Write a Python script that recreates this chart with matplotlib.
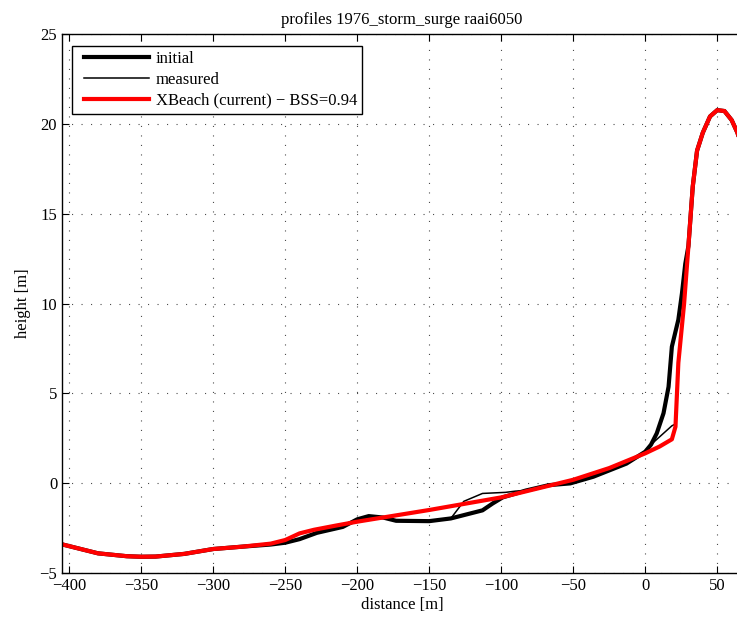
import numpy as np
import matplotlib.pyplot as plt
from matplotlib.legend_handler import HandlerLine2D

plt.rcParams['font.family'] = ['Liberation Serif', 'DejaVu Serif']
plt.rcParams['font.size'] = 12
plt.rcParams['axes.unicode_minus'] = True

# profile data (distance [m], height [m])
x_initial = [-405, -380, -360, -350, -340, -320, -300, -280, -260, -250, -240, -228,
             -210, -200, -192, -182, -173, -150, -135, -113, -106, -99, -83, -67,
             -52, -36, -13, 0, 4, 8, 12.7, 16.2, 18.5, 23, 25.5, 27.8, 30, 33, 36,
             40, 45, 50, 55, 60, 64, 70]
z_initial = [-3.39, -3.89, -4.05, -4.08, -4.07, -3.92, -3.65, -3.52, -3.4, -3.3, -3.1, -2.75,
             -2.42, -2.0, -1.82, -1.9, -2.08, -2.1, -1.95, -1.5, -1.12, -0.78, -0.4, -0.1,
             0.0, 0.37, 1.1, 1.76, 2.15, 2.78, 3.9, 5.37, 7.6, 9.1, 10.56, 12.2, 13.2, 16.5, 18.5,
             19.5, 20.4, 20.75, 20.7, 20.2, 19.5, 18.0]

x_measured = [-405, -380, -360, -350, -340, -320, -300, -280, -260, -250, -240, -228,
              -210, -200, -192, -182, -173, -150, -135, -126, -113, -97, -90, -83, -67,
              -52, -36, -13, 0, 4.6, 18.5, 21, 23, 27, 30, 33, 36,
              40, 45, 50, 55, 60, 64, 70]
z_measured = [-3.39, -3.89, -4.05, -4.08, -4.07, -3.92, -3.65, -3.52, -3.4, -3.3, -3.1, -2.75,
              -2.42, -2.0, -1.82, -1.9, -2.08, -2.1, -1.95, -1.0, -0.56, -0.5, -0.43, -0.4, -0.1,
              0.0, 0.37, 1.1, 1.76, 2.2, 3.2, 3.3, 6.7, 10.0, 13.2, 16.5, 18.5,
              19.5, 20.4, 20.75, 20.7, 20.2, 19.5, 18.0]

x_xbeach = [-405, -380, -360, -350, -340, -320, -300, -280, -260, -250, -240, -230,
            -215, -200, -150, -100, -50, -25, 0, 10, 18.5, 21, 23, 27, 30, 33, 36,
            40, 45, 50, 55, 60, 64, 70]
z_xbeach = [-3.39, -3.89, -4.05, -4.08, -4.07, -3.92, -3.65, -3.52, -3.35, -3.15, -2.78, -2.58,
            -2.35, -2.13, -1.48, -0.78, 0.2, 0.85, 1.67, 2.05, 2.45, 3.15, 6.7, 10.0, 13.2, 16.5, 18.5,
            19.5, 20.4, 20.75, 20.7, 20.2, 19.5, 18.0]

xticks = [-400, -350, -300, -250, -200, -150, -100, -50, 0, 50]
yticks = [-5, 0, 5, 10, 15, 20, 25]

fig = plt.figure(figsize=(7.37, 6.26), dpi=100)
ax = fig.add_axes([62 / 737, 52.7 / 626, 680 / 737, 539.6 / 626])

ax.plot(x_initial, z_initial, color='k', lw=3.0, label='initial')
ax.plot(x_measured, z_measured, color='k', lw=1.1, label='measured')
ax.plot(x_xbeach, z_xbeach, color='#ff0000', lw=3.0, label='XBeach (current) \u2212 BSS=0.94')

ax.set_xlim(-405, 67.2)
ax.set_ylim(-5, 25)
ax.set_xticks(xticks)
ax.set_yticks(yticks)
ax.tick_params(direction='in', length=5, top=True, right=False, width=0.8)
ax.grid(True, color='0.3', lw=0.8, linestyle=(0, (1, 7.55)))
for s in ax.spines.values():
    s.set_linewidth(1.0)
ax.spines['right'].set_visible(False)

ax.set_title('profiles 1976_storm_surge raai6050', fontsize=12, pad=7)
ax.set_xlabel('distance [m]', labelpad=2)
ax.set_ylabel('height [m]', labelpad=6)

hl = HandlerLine2D(xpad=0.4)
leg = ax.legend(loc='upper left', bbox_to_anchor=(0.0145, 0.978), handlelength=4.3,
                handler_map={l: hl for l in ax.get_lines()},
                fancybox=False, framealpha=1, edgecolor='k', borderpad=0.3,
                labelspacing=0.3, handletextpad=0.45, borderaxespad=0)
leg.get_frame().set_linewidth(1.0)

fig.savefig('out.png', dpi=100)
